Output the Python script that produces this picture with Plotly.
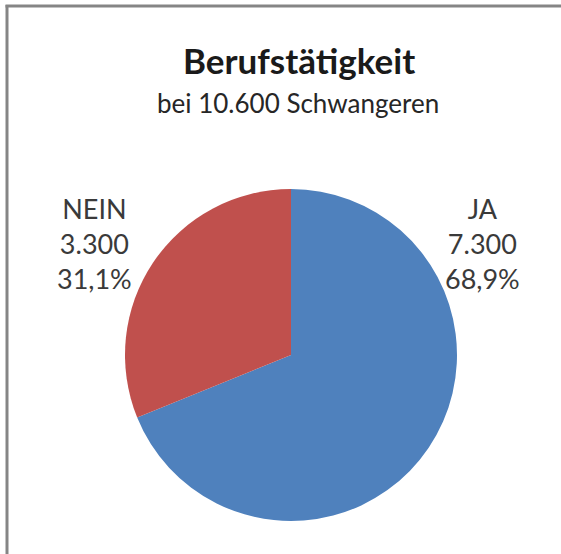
import plotly.graph_objects as go

categories = ["JA", "NEIN"]
values = [7300, 3300]
value_labels = ["7.300", "3.300"]
pct_labels = ["68,9%", "31,1%"]
colors = ["#4F81BD", "#C0504D"]
title_text = "Berufstätigkeit"
subtitle_text = "bei 10.600 Schwangeren"

W, H = 561, 554
cx, cy, r = 291, 355, 166

fig = go.Figure(go.Pie(
    labels=categories,
    values=values,
    sort=False,
    direction="clockwise",
    rotation=0,
    marker=dict(colors=colors, line=dict(width=0)),
    textinfo="none",
    hoverinfo="label+value+percent",
    showlegend=False,
    domain=dict(x=[(cx - r) / W, (cx + r) / W], y=[(H - cy - r) / H, (H - cy + r) / H]),
))

font_family = "Lato, 'Liberation Sans', sans-serif"
label_pos = {"JA": 482, "NEIN": 94}
annotations = [
    dict(text="<b>" + title_text + "</b>", x=299 / W, y=1 - 60 / H, xref="paper", yref="paper",
         showarrow=False, font=dict(family=font_family, size=35, color="#1a1a1a"),
         xanchor="center", yanchor="middle"),
    dict(text=subtitle_text, x=298 / W, y=1 - 103 / H, xref="paper", yref="paper",
         showarrow=False, font=dict(family=font_family, size=26, color="#262626"),
         xanchor="center", yanchor="middle"),
]
for cat, v, p in zip(categories, value_labels, pct_labels):
    annotations.append(dict(
        text=f"{cat}<br>{v}<br>{p}", x=label_pos[cat] / W, y=1 - 243 / H,
        xref="paper", yref="paper", showarrow=False, align="center",
        font=dict(family=font_family, size=27, color="#3a3a3a"),
        xanchor="center", yanchor="middle",
    ))

shapes = [
    dict(type="line", xref="paper", yref="paper", x0=7 / W, x1=7 / W, y0=0, y1=1 - 5 / H,
         line=dict(color="#858585", width=3)),
    dict(type="line", xref="paper", yref="paper", x0=5.5 / W, x1=1, y0=1 - 6 / H, y1=1 - 6 / H,
         line=dict(color="#858585", width=3)),
]

fig.update_layout(
    width=W, height=H,
    margin=dict(l=0, r=0, t=0, b=0),
    paper_bgcolor="white",
    plot_bgcolor="white",
    annotations=annotations,
    shapes=shapes,
)

fig.write_html(
    "out.html",
    config={"displayModeBar": False},
    post_script="document.body.style.margin='0';document.body.style.overflow='hidden';",
)
